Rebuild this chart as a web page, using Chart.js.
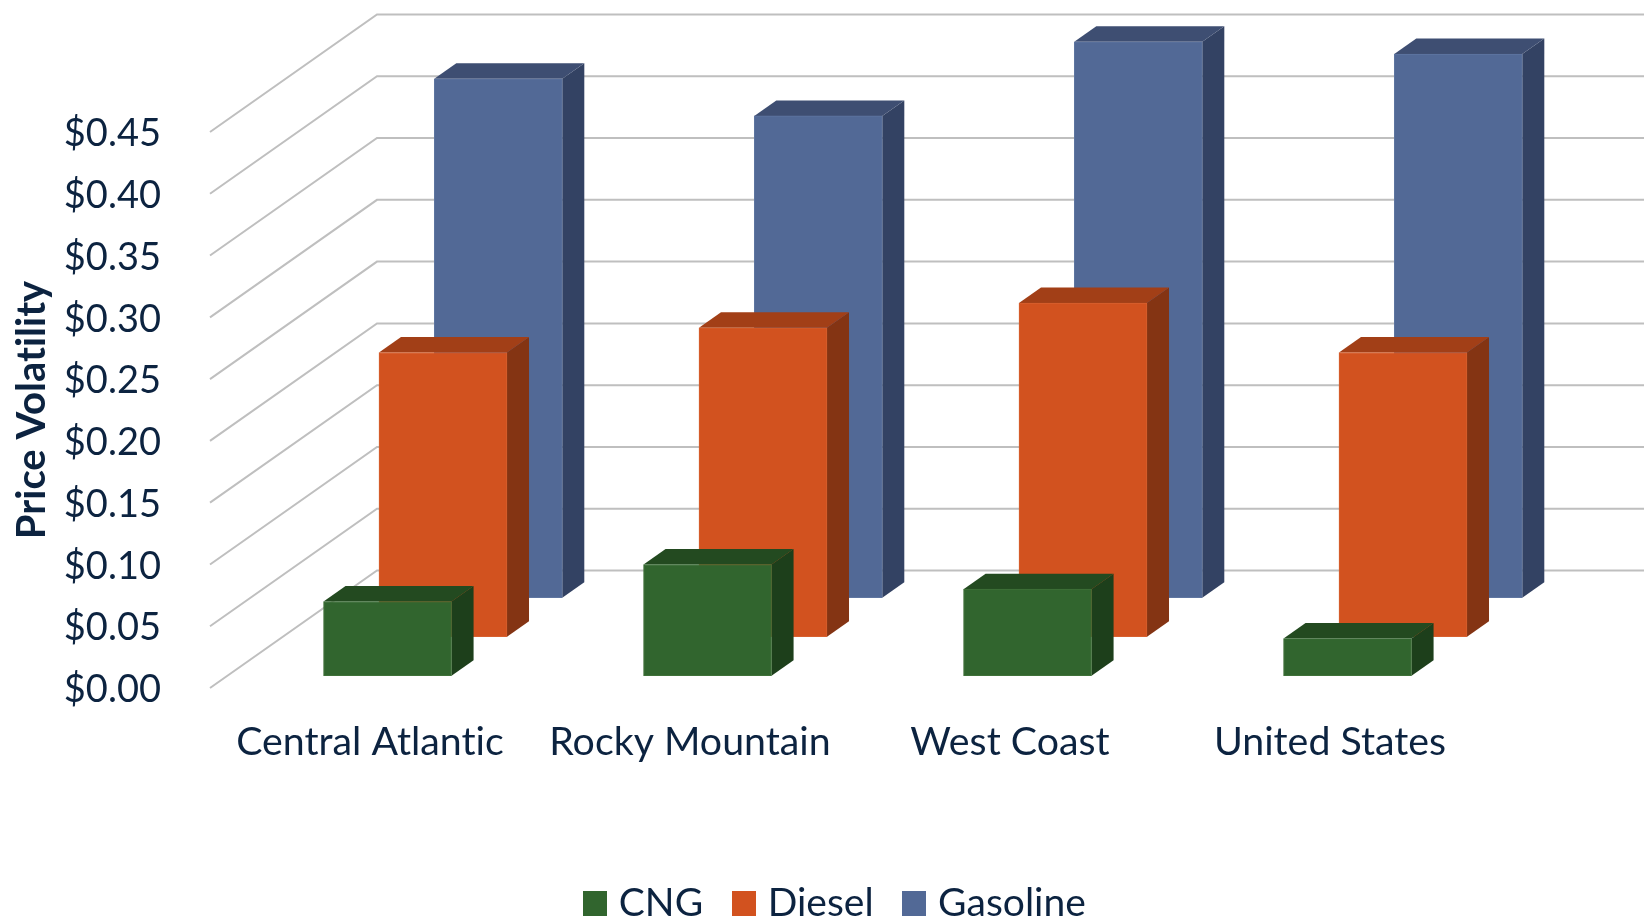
<!DOCTYPE html>
<html>
<head>
<meta charset="utf-8">
<title>Price Volatility</title>
<script src="https://cdn.jsdelivr.net/npm/chart.js@4"></script>
<style>
  html, body { margin: 0; background: #fff; }
  canvas { display: block; }
</style>
</head>
<body>
<canvas id="chart" width="1644" height="916"></canvas>
<script>
const categories = ['Central Atlantic', 'Rocky Mountain', 'West Coast', 'United States'];
const cngValues = [0.06, 0.09, 0.07, 0.03];
const dieselValues = [0.23, 0.25, 0.27, 0.23];
const gasolineValues = [0.42, 0.39, 0.45, 0.44];

const textColor = '#0c2340';
const gridColor = '#bfbfbf';

// floor depth of the 3d box, and how far into it each row of bars sits
const wallDepth = { x: 167, y: -117.5 };
const barDepth = 0.132;
const rows = [
  { front: '#31652e', edge: '#3f7139', top: '#234a20', side: '#1d3f1b', depth: 0.105 },
  { front: '#d2521f', edge: '#d7602f', top: '#a23f17', side: '#843413', depth: 0.437 },
  { front: '#526996', edge: '#5f76a1', top: '#3e4e72', side: '#334263', depth: 0.768 }
];

function face(ctx, color, points) {
  ctx.fillStyle = color;
  ctx.beginPath();
  points.forEach((p, i) => i ? ctx.lineTo(p[0], p[1]) : ctx.moveTo(p[0], p[1]));
  ctx.closePath();
  ctx.fill();
}

// side walls and back wall, one line per y tick
const wallGrid = {
  id: 'wallGrid',
  beforeDatasetsDraw(chart) {
    const { ctx, chartArea, scales } = chart;
    ctx.save();
    ctx.strokeStyle = gridColor;
    ctx.lineWidth = 2;
    scales.y.ticks.forEach(tick => {
      const y = scales.y.getPixelForValue(tick.value);
      ctx.beginPath();
      ctx.moveTo(chartArea.left, y);
      ctx.lineTo(chartArea.left + wallDepth.x, y + wallDepth.y);
      ctx.lineTo(chartArea.right + wallDepth.x, y + wallDepth.y);
      ctx.stroke();
    });
    ctx.restore();
  }
};

// pushes each dataset back into the box and adds the top and side faces
const bars3d = {
  id: 'bars3d',
  beforeDatasetDraw(chart, args) {
    const { ctx } = chart;
    const row = rows[args.index];
    const dx = wallDepth.x * barDepth;
    const dy = wallDepth.y * barDepth;
    ctx.save();
    ctx.translate(wallDepth.x * row.depth, wallDepth.y * row.depth);
    args.meta.data.forEach(bar => {
      const { x, y, base, width } = bar.getProps(['x', 'y', 'base', 'width']);
      const l = x - width / 2;
      const r = x + width / 2;
      face(ctx, row.side, [[r, y], [r + dx, y + dy], [r + dx, base + dy], [r, base]]);
      face(ctx, row.top, [[l, y], [l + dx, y + dy], [r + dx, y + dy], [r, y]]);
    });
  },
  afterDatasetDraw(chart) {
    chart.ctx.restore();
  }
};

// the legend sits right of centre and runs up against the bottom edge
const legendPlacement = {
  id: 'legendPlacement',
  afterLayout(chart) {
    const legend = chart.legend;
    const padding = legend.options.labels.padding;
    legend.left += 93;
    legend.right += 93;
    legend.top = 903 - legendFontSize / 2 - padding;
    legend.bottom = legend.top + legend.height;
    legend.adjustHitBoxes();
    // y labels hang slightly below their tick
    chart.scales.y.getLabelItems().forEach(item => { item.options.translation[1] += 2; });
  },
  // keeps "ti" as two letters in the Lato labels
  beforeDraw(chart) {
    chart.ctx.letterSpacing = '0.01px';
  }
};

function legendSwatch(color) {
  const c = document.createElement('canvas');
  c.width = 24;
  c.height = 25;
  const g = c.getContext('2d');
  g.fillStyle = color;
  g.fillRect(0, 0, 24, 25);
  return c;
}

const seriesNames = ['CNG', 'Diesel', 'Gasoline'];
const seriesValues = [cngValues, dieselValues, gasolineValues];
const legendFontSize = 39;

new Chart(document.getElementById('chart'), {
  type: 'bar',
  data: {
    labels: categories,
    datasets: seriesNames.map((name, i) => ({
      label: name,
      data: seriesValues[i],
      backgroundColor: rows[i].front,
      borderColor: rows[i].edge,
      borderWidth: 1,
      borderSkipped: false,
      barThickness: 128,
      grouped: false,
      clip: false
    }))
  },
  options: {
    responsive: false,
    animation: false,
    events: [],
    layout: { padding: { top: 132, right: 154, bottom: 0, left: 0 } },
    scales: {
      x: {
        grid: { display: false, drawTicks: false },
        border: { display: false },
        ticks: { color: textColor, font: { family: 'Lato', size: 39.3 }, padding: 31, maxRotation: 0, autoSkip: false },
        afterFit(scale) { scale.height = 228 - scale.chart.legend.height; }
      },
      y: {
        min: 0,
        max: 0.45,
        grid: { display: false, drawTicks: false },
        border: { display: false },
        ticks: {
          stepSize: 0.05,
          color: textColor,
          font: { family: 'Lato', size: 38 },
          padding: 49,
          callback: v => '$' + v.toFixed(2)
        },
        title: {
          display: true,
          text: 'Price Volatility',
          color: textColor,
          font: { family: 'Lato', size: 40, weight: 'bold' },
          padding: { top: 8, bottom: 0 }
        },
        afterFit(scale) { scale.width = 210; }
      }
    },
    plugins: {
      tooltip: { enabled: false },
      legend: {
        position: 'bottom',
        labels: {
          color: textColor,
          font: { family: 'Lato', size: legendFontSize },
          usePointStyle: true,
          pointStyleWidth: 9,
          padding: 36,
          generateLabels: chart => chart.data.datasets.map((ds, i) => ({
            text: ds.label,
            fontColor: textColor,
            fillStyle: ds.backgroundColor,
            lineWidth: 0,
            pointStyle: legendSwatch(ds.backgroundColor),
            datasetIndex: i
          }))
        }
      }
    }
  },
  plugins: [wallGrid, bars3d, legendPlacement]
});
</script>
</body>
</html>
